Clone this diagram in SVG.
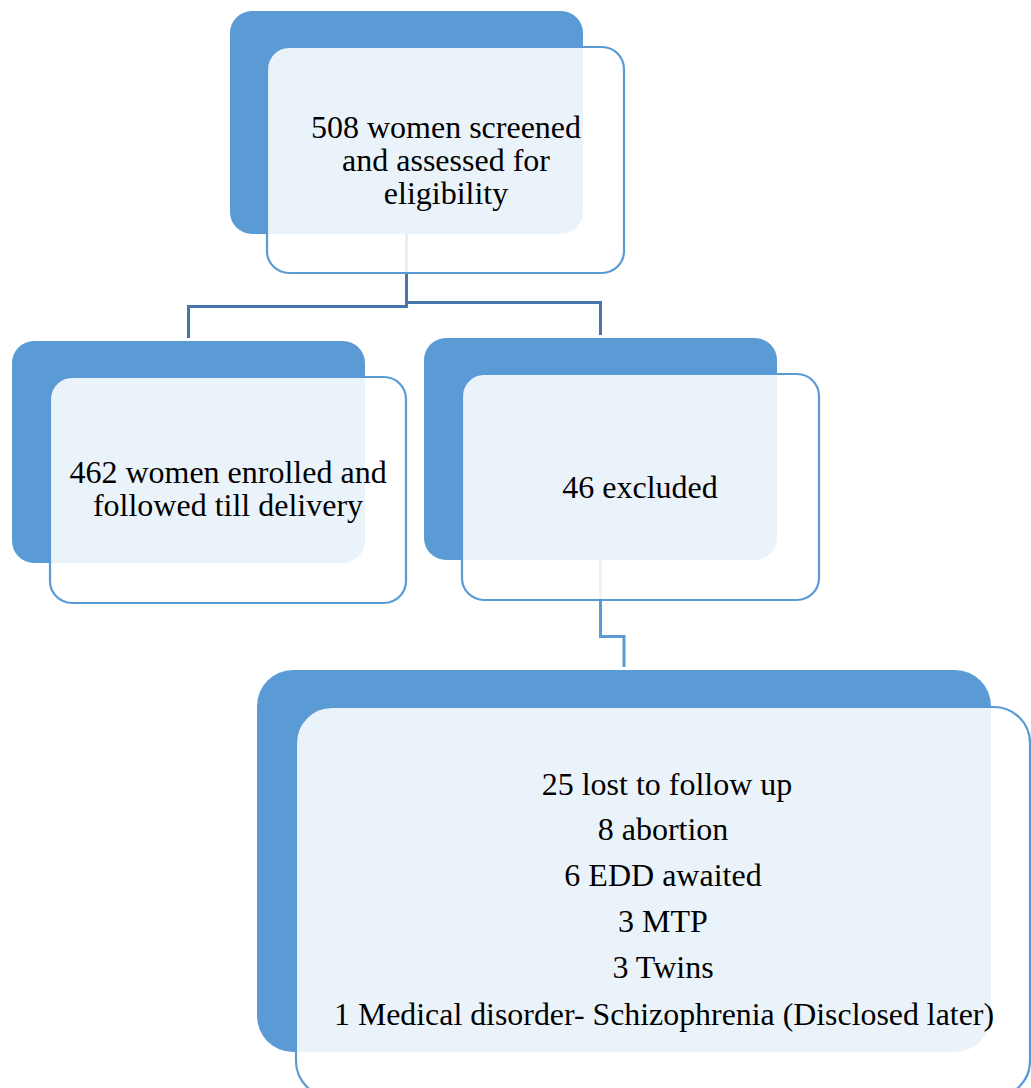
<svg xmlns="http://www.w3.org/2000/svg" width="1031" height="1088" viewBox="0 0 1031 1088">
<style>
.back{fill:#5B9BD5;}
.front{fill:#FFFFFF;fill-opacity:0.88;stroke:#5B9BD5;stroke-width:2.2;}
.conn{fill:none;stroke:#4676AA;stroke-width:3;}
.conn2{fill:none;stroke:#5B9BD5;stroke-width:3;}
text{font-family:"Liberation Serif","Times New Roman",serif;font-size:32px;fill:#000;text-anchor:middle;}
</style>
<rect width="1031" height="1088" fill="#FFFFFF"/>
<g id="connectors">
<path class="conn" d="M406.5,234 V306.5 H188.5 V338"/>
<path class="conn" d="M406.5,302.5 H600.5 V335"/>
<path class="conn2" d="M600.5,560 V636.5 H624 V667"/>
</g>
<g id="node-screened">
<rect class="back" x="230" y="11" width="353" height="223" rx="22"/>
<rect class="front" x="267" y="47" width="357" height="226" rx="22"/>
<text x="446" y="138">508 women screened</text>
<text x="446" y="171">and assessed for</text>
<text x="446" y="204">eligibility</text>
</g>
<g id="node-enrolled">
<rect class="back" x="12" y="341" width="353" height="222" rx="22"/>
<rect class="front" x="50" y="377" width="356" height="226" rx="22"/>
<text x="228" y="483">462 women enrolled and</text>
<text x="228" y="516">followed till delivery</text>
</g>
<g id="node-excluded">
<rect class="back" x="424" y="338" width="353" height="222" rx="22"/>
<rect class="front" x="462" y="374" width="357" height="226" rx="22"/>
<text x="640" y="498">46 excluded</text>
</g>
<g id="node-reasons">
<rect class="back" x="257" y="670" width="734" height="382" rx="36"/>
<rect class="front" x="296" y="707" width="734" height="390" rx="36"/>
<text x="667" y="795">25 lost to follow up</text>
<text x="663" y="840">8 abortion</text>
<text x="663" y="886">6 EDD awaited</text>
<text x="663" y="932">3 MTP</text>
<text x="663" y="978">3 Twins</text>
<text x="664" y="1025" textLength="660" lengthAdjust="spacingAndGlyphs">1 Medical disorder- Schizophrenia (Disclosed later)</text>
</g>
</svg>
